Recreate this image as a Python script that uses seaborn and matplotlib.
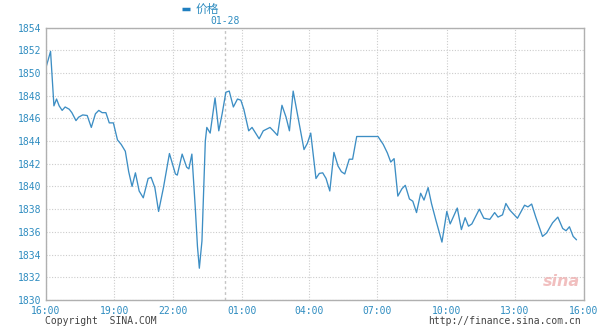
import matplotlib
matplotlib.use("Agg")
import matplotlib.pyplot as plt
from matplotlib.lines import Line2D
import seaborn as sns
import pandas as pd

# x in minutes-like units from 16:00 (axis positions), price values
x_pos = [1, 13, 22, 29, 36, 44, 52, 63, 70, 81, 88, 99, 111, 122, 133, 142, 151, 161, 170, 181,
         192, 202, 213, 222, 231, 240, 250, 261, 274, 282, 292, 302, 315, 331, 347, 352, 365, 377,
         383, 391, 400, 406, 411, 418, 427, 431, 440, 453, 463, 472, 482, 491, 502, 513, 522, 530,
         543, 552, 571, 582, 600, 609, 620, 632, 643, 652, 662, 671, 680, 691, 700, 709, 723, 732,
         741, 750, 760, 771, 782, 791, 800, 812, 821, 832, 889, 903, 914, 923, 932, 942, 953, 962,
         973, 982, 992, 1003, 1012, 1023, 1032, 1044, 1060, 1073, 1082, 1101, 1112, 1122, 1131,
         1140, 1160, 1172, 1188, 1201, 1210, 1222, 1231, 1242, 1262, 1281, 1290, 1300, 1311, 1329,
         1340, 1356, 1370, 1383, 1392, 1401, 1411, 1420]
price = [1850.5, 1851.9, 1847.1, 1847.7, 1847.1, 1846.7, 1847.0, 1846.8, 1846.5, 1845.8, 1846.1,
         1846.3, 1846.25, 1845.2, 1846.4, 1846.7, 1846.5, 1846.5, 1845.6, 1845.6, 1844.1, 1843.7,
         1843.1, 1841.3, 1840.0, 1841.2, 1839.6, 1839.0, 1840.7, 1840.8, 1839.9, 1837.8, 1839.9,
         1842.9, 1841.1, 1841.0, 1842.85, 1841.7, 1841.55, 1842.85, 1838.2, 1834.7, 1832.8, 1835.2,
         1844.0, 1845.2, 1844.7, 1847.8, 1844.9, 1846.4, 1848.3, 1848.4, 1847.0, 1847.7, 1847.6,
         1846.8, 1844.9, 1845.2, 1844.2, 1844.9, 1845.2, 1844.9, 1844.5, 1847.15, 1846.1, 1844.9,
         1848.4, 1846.8, 1845.2, 1843.25, 1843.8, 1844.7, 1840.7, 1841.15, 1841.2, 1840.7, 1839.6,
         1843.0, 1841.8, 1841.3, 1841.1, 1842.4, 1842.4, 1844.4, 1844.4, 1843.7, 1842.95, 1842.15,
         1842.45, 1839.15, 1839.8, 1840.1, 1838.9, 1838.7, 1837.7, 1839.4, 1838.8, 1839.9, 1838.5,
         1837.0, 1835.1, 1837.8, 1836.7, 1838.1, 1836.2, 1837.25, 1836.5, 1836.7, 1838.0, 1837.2,
         1837.1, 1837.7, 1837.3, 1837.5, 1838.5, 1837.9, 1837.2, 1838.35, 1838.2, 1838.45, 1837.3,
         1835.6, 1835.9, 1836.8, 1837.3, 1836.3, 1836.1, 1836.45, 1835.6, 1835.3]

x_tick_pos = [0, 183, 341, 524, 705, 887, 1073, 1255, 1440]
x_tick_labels = ["16:00", "19:00", "22:00", "01:00", "04:00", "07:00", "10:00", "13:00", "16:00"]
y_ticks = list(range(1830, 1855, 2))
day_break_pos = 480
day_break_label = "01-28"
series_name = "价格"

df = pd.DataFrame({"x": x_pos, "price": price})

sns.set_theme(style="white")
plt.rcParams["font.family"] = ["DejaVu Sans Mono", "Noto Sans CJK SC"]

fig = plt.figure(figsize=(6.0, 3.27), dpi=100)
ax = fig.add_axes([45.7 / 600, 1 - 300 / 327, (584 - 45.7) / 600, (300 - 27.5) / 327])

line_color = "#3d8ec4"
tick_color = "#2e8cc0"

sns.lineplot(data=df, x="x", y="price", ax=ax, color=line_color, linewidth=0.95, legend=False)

ax.set_xlim(0, 1440)
ax.set_ylim(1830, 1854)
ax.set_xticks(x_tick_pos)
ax.set_xticklabels(x_tick_labels)
ax.set_yticks(y_ticks)
ax.set_yticklabels([str(v) for v in y_ticks])
ax.tick_params(axis="both", length=0, labelsize=7, colors=tick_color, pad=3)
ax.tick_params(axis="x", pad=4)
ax.set_xlabel("")
ax.set_ylabel("")

ax.grid(True, which="major", color="#cccccc", linestyle=(0, (1, 1.5)), linewidth=0.8)
ax.set_axisbelow(True)
for s in ax.spines.values():
    s.set_color("#b0b0b0")
    s.set_linewidth(1.0)

ax.axvline(day_break_pos, color="#c4c4c4", linestyle=(0, (2, 2)), linewidth=1.0, zorder=0.5)

# labels above plot
ax.text(day_break_pos, 1.005, day_break_label, transform=ax.get_xaxis_transform(),
        ha="center", va="bottom", fontsize=7, color=tick_color)
fig.add_artist(Line2D([182 / 600, 190 / 600], [1 - 9 / 327, 1 - 9 / 327], transform=fig.transFigure,
                      color="#1f7fc0", linewidth=2.5, solid_capstyle="butt"))
fig.text(196 / 600, 1 - 9 / 327, series_name, ha="left", va="center", fontsize=8.5, color=tick_color,
         family=["Noto Sans CJK SC", "DejaVu Sans"])

fig.text(45 / 600, 1 - 321 / 327, "Copyright  SINA.COM", ha="left", va="center", fontsize=7,
         color="#444444")
fig.text(581 / 600, 1 - 321 / 327, "http://finance.sina.com.cn", ha="right", va="center",
         fontsize=7, color="#444444")
ax.text(0.993, 0.04, "sina", transform=ax.transAxes, ha="right", va="bottom", fontsize=11.5,
        style="italic", fontweight="bold", color="#eeb0b0", alpha=0.8, family=["DejaVu Sans"])

fig.savefig("out.png", dpi=100, facecolor="white")
